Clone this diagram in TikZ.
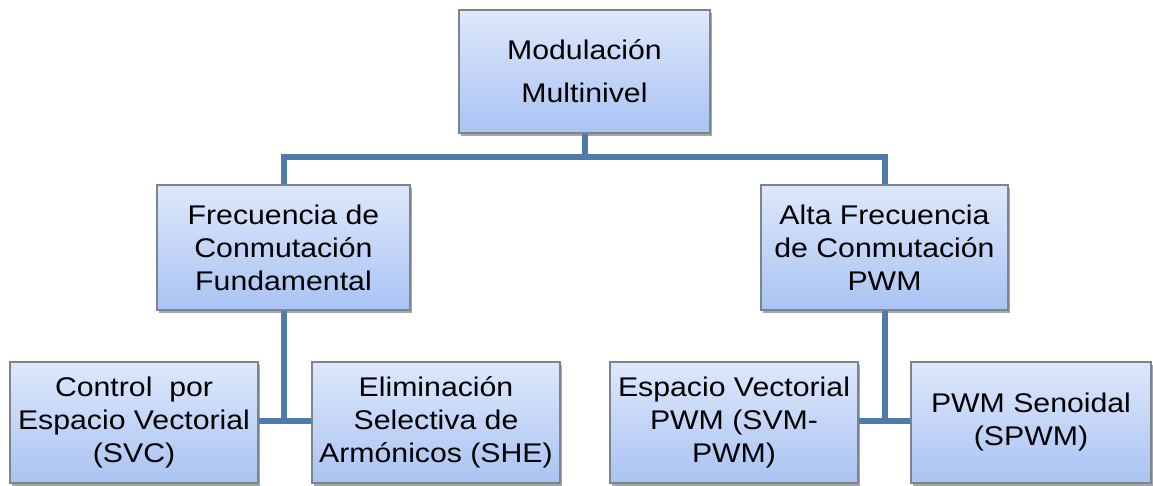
\documentclass[tikz,border=0pt]{standalone}
\usepackage{fontspec}
\setmainfont{Liberation Sans}[FakeStretch=1.12]
\usetikzlibrary{shadows}
\definecolor{linkblue}{HTML}{4E7AAC}
\definecolor{boxtop}{HTML}{DEE8FB}
\definecolor{boxbot}{HTML}{A9C3F3}
\definecolor{boxedge}{HTML}{7E848E}
\begin{document}
\begin{tikzpicture}[x=1pt,y=-1pt,
  box/.style={rectangle, draw=boxedge, line width=1.2pt, top color=boxtop, bottom color=boxbot,
    inner sep=0pt, align=center, font=\fontsize{27}{33}\selectfont,
    drop shadow={shadow xshift=2pt, shadow yshift=-3pt, fill=black, opacity=0.35}},
  link/.style={draw=linkblue, line width=6pt}]
\useasboundingbox (0,0) rectangle (1153,485);
\node[box, minimum width=251pt, minimum height=123pt, font=\fontsize{27}{43}\selectfont] (top) at (584.5,71.5) {Modulación\\Multinivel};
\node[box, minimum width=253pt, minimum height=125pt] (fund) at (283.5,247.5) {Frecuencia de\\Conmutación\\Fundamental};
\node[box, minimum width=247pt, minimum height=125pt] (alta) at (884.5,247.5) {Alta Frecuencia\\de Conmutación\\PWM};
\node[box, minimum width=248pt, minimum height=121pt] (svc) at (134,422.5) {Control\ \ por\\Espacio Vectorial\\(SVC)};
\node[box, minimum width=248pt, minimum height=121pt] (she) at (436,422.5) {Eliminación\\Selectiva de\\Armónicos (SHE)};
\node[box, minimum width=248pt, minimum height=121pt] (svm) at (734,422.5) {Espacio Vectorial\\PWM (SVM-\\PWM)};
\node[box, minimum width=240pt, minimum height=121pt] (spwm) at (1031,422.5) {PWM Senoidal\\(SPWM)};
\coordinate (j1) at (584.5,157);
\coordinate (jl) at (283.5,157);
\coordinate (jr) at (884.5,157);
\coordinate (bl) at (283.5,421);
\coordinate (br) at (884.5,421);
\begin{scope}[on background layer/.try]
\end{scope}
\draw[link] (top.south) -- (j1);
\draw[link, line join=miter] (fund.north) -- (jl) -- (jr) -- (alta.north);
\draw[link] (fund.south) -- (bl);
\draw[link] (svc.east |- bl) -- (she.west |- bl);
\draw[link] (alta.south) -- (br);
\draw[link] (svm.east |- br) -- (spwm.west |- br);
\end{tikzpicture}
\end{document}
